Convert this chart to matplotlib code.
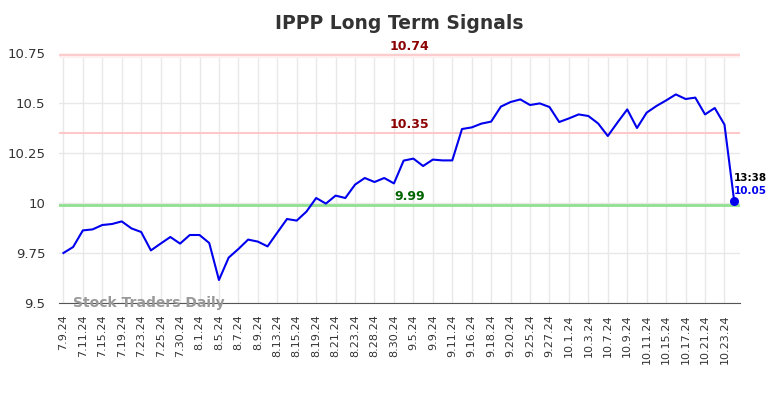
import matplotlib
matplotlib.use("Agg")
import matplotlib.pyplot as plt

# daily closes
prices = [9.75, 9.78, 9.863, 9.868, 9.89, 9.895, 9.908, 9.873, 9.855, 9.763,
          9.797, 9.83, 9.797, 9.84, 9.84, 9.80, 9.615, 9.727, 9.77, 9.817,
          9.807, 9.783, 9.852, 9.92, 9.912, 9.957, 10.025, 9.997, 10.037, 10.025,
          10.092, 10.125, 10.105, 10.125, 10.098, 10.212, 10.222, 10.185, 10.217, 10.213,
          10.213, 10.37, 10.378, 10.397, 10.407, 10.482, 10.505, 10.518, 10.49, 10.498,
          10.48, 10.405, 10.423, 10.443, 10.435, 10.398, 10.335, 10.403, 10.468, 10.375,
          10.452, 10.485, 10.513, 10.543, 10.52, 10.527, 10.443, 10.475, 10.392, 10.01]

tick_labels = ["7.9.24", "7.11.24", "7.15.24", "7.19.24", "7.23.24", "7.25.24", "7.30.24",
               "8.1.24", "8.5.24", "8.7.24", "8.9.24", "8.13.24", "8.15.24", "8.19.24",
               "8.21.24", "8.23.24", "8.28.24", "8.30.24", "9.5.24", "9.9.24", "9.11.24",
               "9.16.24", "9.18.24", "9.20.24", "9.25.24", "9.27.24", "10.1.24", "10.3.24",
               "10.7.24", "10.9.24", "10.11.24", "10.15.24", "10.17.24", "10.21.24", "10.23.24"]

upper_signal = 10.74
mid_signal = 10.35
lower_signal = 9.99
last_time = "13:38"
last_label = "10.05"

fig = plt.figure(figsize=(7.84, 3.98), dpi=100)
ax = fig.add_axes([0.0753, 0.2387, 0.8686, 0.6281])

x = list(range(len(prices)))

ax.axhspan(upper_signal - 0.008, upper_signal + 0.008, color="#fdf0f0", zorder=1)
ax.axhline(upper_signal, color="#ffc8c8", lw=1.2, zorder=2)
ax.axhline(mid_signal, color="#ffc8c8", lw=1.5, zorder=2)
ax.axhline(lower_signal, color="#90e090", lw=2, zorder=2)

ax.plot(x, prices, color="#0000ee", lw=1.5, zorder=4)
ax.scatter([x[-1]], [prices[-1]], color="#0000ee", s=30, zorder=5)

lx = 35.6
ax.text(lx, upper_signal + 0.012, f"{upper_signal:.2f}", color="#8b0000", fontsize=9,
        fontweight="bold", ha="center", va="bottom")
ax.text(lx, mid_signal + 0.012, f"{mid_signal:.2f}", color="#8b0000", fontsize=9,
        fontweight="bold", ha="center", va="bottom")
ax.text(lx, lower_signal + 0.012, f"{lower_signal:.2f}", color="#006400", fontsize=9,
        fontweight="bold", ha="center", va="bottom")

ax.text(x[-1], prices[-1] + 0.088, last_time, color="black", fontsize=7.5,
        fontweight="bold", ha="left", va="bottom")
ax.text(x[-1], prices[-1] + 0.025, last_label, color="#0000ee", fontsize=7.5,
        fontweight="bold", ha="left", va="bottom")

ax.text(1.0, 9.5 + 0.002, "Stock Traders Daily", color="#999999", fontsize=10,
        fontweight="bold", ha="left", va="center", zorder=3)

ax.set_xlim(-0.45, 69.6)
ax.set_ylim(9.5, 10.75)
ax.set_yticks([9.5, 9.75, 10, 10.25, 10.5, 10.75])
ax.set_yticklabels(["9.5", "9.75", "10", "10.25", "10.5", "10.75"])
ax.set_xticks(x[::2])
ax.set_xticklabels(tick_labels, rotation=90, fontsize=8, color="#333333")
ax.tick_params(axis="y", labelsize=9.5, colors="#333333", length=0, pad=10)
ax.tick_params(axis="x", length=0, pad=8)

ax.grid(True, color="#e8e8e8", lw=1, zorder=0)
ax.set_axisbelow(True)
for side in ["top", "right", "left"]:
    ax.spines[side].set_visible(False)
ax.spines["bottom"].set_color("#555555")

ax.set_title("IPPP Long Term Signals", fontsize=13.5, fontweight="bold", color="#333333", pad=17)

fig.savefig("out.png", dpi=100)
